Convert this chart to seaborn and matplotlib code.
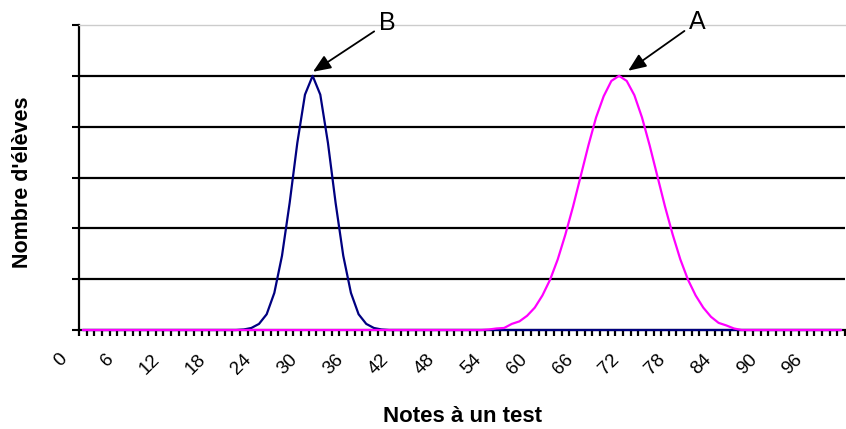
import pandas as pd
import seaborn as sns
import matplotlib.pyplot as plt
from matplotlib.transforms import ScaledTranslation

# categories on the x axis (test scores) and the two class curves
scores = list(range(100))
counts_b = [0] * 20 + [0, 0.01, 0.04, 0.12, 0.31, 0.73, 1.46, 2.5, 3.68, 4.63, 5.0,
                       4.63, 3.68, 2.5, 1.46, 0.73, 0.31, 0.12, 0.04, 0.01, 0] + [0] * 59
counts_a = [0] * 52 + [0, 0.01, 0.03, 0.04, 0.12, 0.17, 0.28, 0.44, 0.68, 0.99, 1.39,
                       1.88, 2.43, 3.03, 3.63, 4.18, 4.6, 4.9, 5.0, 4.9, 4.62, 4.18,
                       3.63, 3.03, 2.43, 1.88, 1.39, 0.99, 0.68, 0.44, 0.26, 0.14,
                       0.09, 0.03, 0, 0, 0] + [0] * 11
xtick_values = list(range(0, 100, 6))
ytick_values = list(range(0, 7))

df = pd.DataFrame({
    'score': scores * 2,
    'count': counts_b + counts_a,
    'group': ['B'] * len(scores) + ['A'] * len(scores),
})

sns.set_style('white')
plt.rcParams['font.family'] = ['Liberation Sans', 'DejaVu Sans']
plt.rcParams['text.color'] = 'black'
plt.rcParams['xtick.color'] = 'black'
plt.rcParams['ytick.color'] = 'black'

fig, ax = plt.subplots(figsize=(8.46, 4.29), dpi=100)
fig.subplots_adjust(left=79 / 846, right=845 / 846, bottom=1 - 330 / 429, top=1 - 25 / 429)

sns.lineplot(data=df, x='score', y='count', hue='group', hue_order=['B', 'A'],
             palette={'B': '#000080', 'A': '#ff00ff'}, linewidth=1.6, legend=False,
             ax=ax, zorder=3, clip_on=False)

ax.set_xlim(-0.5, 99.5)
ax.set_ylim(0, 6)

# y axis: ticks only, black horizontal grid lines
ax.set_yticks(ytick_values)
ax.tick_params(axis='y', which='major', direction='out', length=5, width=1.5,
               color='black', labelleft=False, left=True)
ax.yaxis.grid(True, color='black', linewidth=1.6)
ax.set_axisbelow(True)
ax.get_ygridlines()[0].set_visible(False)
ax.get_ygridlines()[-1].set_visible(False)

# x axis: labels every 6, small ticks between every category
ax.tick_params(axis='x', which='major', length=0, pad=15, bottom=True,
               labelsize=13.5, labelcolor='black')
ax.tick_params(axis='x', which='minor', direction='out', length=4, width=1.6,
               color='black', bottom=True)
ax.set_xticks(xtick_values)
ax.set_xticklabels([str(v) for v in xtick_values], rotation=45, ha='right', va='top',
                   rotation_mode='anchor', fontsize=13.5, color='black')
ax.set_xticks([s + 0.5 for s in [-1] + scores], minor=True)
shift = ScaledTranslation(-24 / 100, 0, fig.dpi_scale_trans)
for label in ax.get_xticklabels():
    label.set_transform(label.get_transform() + shift)

ax.set_xlabel('')
ax.set_ylabel('')

for side in ['left', 'bottom']:
    ax.spines[side].set_color('black')
    ax.spines[side].set_linewidth(1.6)
ax.spines['top'].set_color('#cccccc')
ax.spines['top'].set_linewidth(1)
ax.spines['right'].set_visible(False)

arrow = dict(arrowstyle='-|>,head_length=0.6,head_width=0.25', color='black', lw=1.3,
             shrinkA=1, shrinkB=0)
ax.annotate('B', xy=(30.05, 5.08), xytext=(39.7, 6.04), fontsize=18, ha='center',
            va='center', color='black', arrowprops=arrow, annotation_clip=False)
ax.annotate('A', xy=(71.2, 5.1), xytext=(80.2, 6.06), fontsize=18, ha='center',
            va='center', color='black', arrowprops=arrow, annotation_clip=False)

fig.text(22 / 846, 1 - 182 / 429, "Nombre d'élèves", rotation=90, ha='center',
         va='center', fontsize=15.5, fontweight='bold', color='black')
fig.text(462 / 846, 1 - 417 / 429, 'Notes à un test', ha='center', va='center',
         fontsize=16, fontweight='bold', color='black')

plt.savefig('out.png', dpi=100)
